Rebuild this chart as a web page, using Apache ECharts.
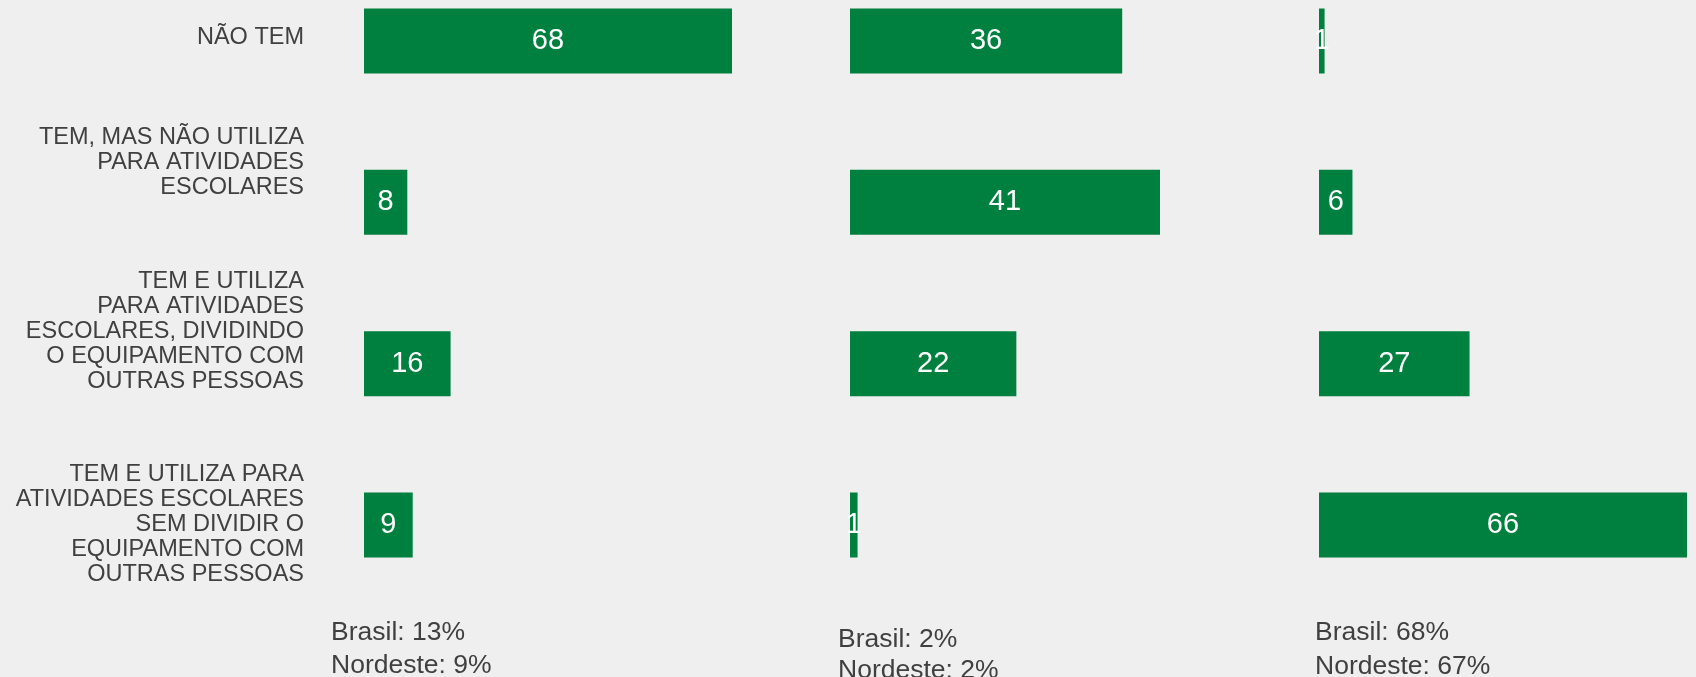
<!DOCTYPE html>
<html>
<head>
<meta charset="utf-8">
<script src="https://cdn.jsdelivr.net/npm/echarts@6/dist/echarts.min.js"></script>
<style>
html,body{margin:0;padding:0;background:#efefef;}
#chart{width:1696px;height:677px;}
</style>
</head>
<body>
<div id="chart"></div>
<script>
// ---- data ----
const categories = [
  'NÃO TEM',
  'TEM, MAS NÃO UTILIZA\nPARA ATIVIDADES\nESCOLARES',
  'TEM E UTILIZA\nPARA ATIVIDADES\nESCOLARES, DIVIDINDO\nO EQUIPAMENTO COM\nOUTRAS PESSOAS',
  'TEM E UTILIZA PARA\nATIVIDADES ESCOLARES\nSEM DIVIDIR O\nEQUIPAMENTO COM\nOUTRAS PESSOAS'
];
const panel1 = [68, 8, 16, 9];
const panel2 = [36, 41, 22, 1];
const panel3 = [1, 6, 27, 66];
const brasil = [13, 2, 68];
const nordeste = [9, 2, 67];

// ---- layout / style ----
const FONT = "'Liberation Sans', Arial, sans-serif";
const GREEN = '#00803E';
const TEXT = '#404040';
const panels = [panel1, panel2, panel3];
const gridLefts = [364, 850, 1319];
const gridWidths = [368, 310, 368];
const labelSpacer = [6, 80, 64, 0];   // extra space under each category label (px)
const footX = [331, 838, 1315];
const footY = [[619, 652], [626, 657], [619, 653]];

const rich = {};
labelSpacer.forEach((h, k) => { if (h > 0) rich['sp' + k] = { height: h, lineHeight: h, fontSize: 1 }; });

const grids = panels.map((p, i) => ({
  left: gridLefts[i], width: gridWidths[i], top: 41, height: 484
}));
const xAxes = panels.map((p, i) => ({
  type: 'value', gridIndex: i, min: 0, max: Math.max.apply(null, p), show: false
}));
const yAxes = panels.map((p, i) => ({
  type: 'category', gridIndex: i, inverse: true, boundaryGap: false,
  data: categories,
  axisLine: { show: false }, axisTick: { show: false }, splitLine: { show: false },
  axisLabel: {
    show: i === 0, margin: 60, align: 'right', color: TEXT,
    fontSize: 23.5, lineHeight: 25, fontFamily: FONT, interval: 0,
    formatter: function (v, k) {
      return labelSpacer[k] > 0 ? v + '\n{sp' + k + '| }' : v;
    },
    rich: rich
  }
}));
const series = panels.map((p, i) => ({
  type: 'bar', xAxisIndex: i, yAxisIndex: i, data: p, barWidth: 65,
  itemStyle: { color: GREEN }, clip: false,
  label: { show: true, position: 'inside', color: '#fff', fontSize: 29, fontFamily: FONT }
}));
const graphics = [];
brasil.forEach((b, i) => {
  graphics.push({ type: 'text', left: footX[i], top: footY[i][0],
    style: { text: 'Brasil: ' + b + '%', fill: TEXT, font: '26.5px ' + FONT } });
  graphics.push({ type: 'text', left: footX[i], top: footY[i][1],
    style: { text: 'Nordeste: ' + nordeste[i] + '%', fill: TEXT, font: '26.5px ' + FONT } });
});

const chart = echarts.init(document.getElementById('chart'), null, { renderer: 'canvas' });
chart.setOption({
  backgroundColor: '#efefef',
  animation: false,
  grid: grids, xAxis: xAxes, yAxis: yAxes, series: series,
  graphic: graphics
});
</script>
</body>
</html>
